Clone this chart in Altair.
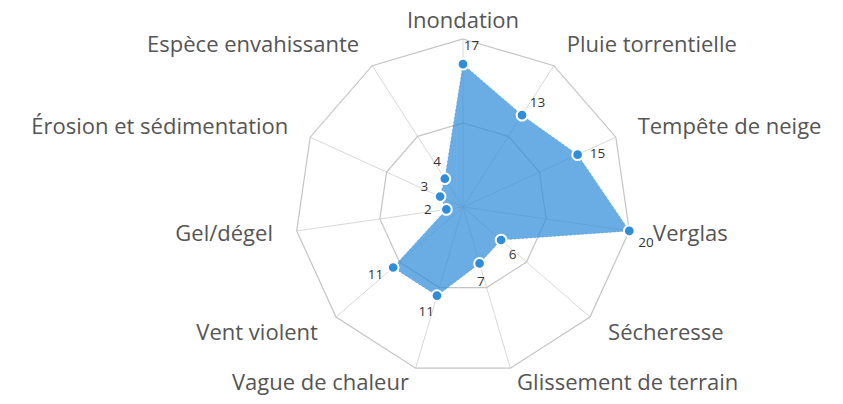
import altair as alt
import numpy as np
import pandas as pd

categories = ["Inondation", "Pluie torrentielle", "Tempête de neige", "Verglas",
              "Sécheresse", "Glissement de terrain", "Vague de chaleur", "Vent violent",
              "Gel/dégel", "Érosion et sédimentation", "Espèce envahissante"]
values = [17, 13, 15, 20, 6, 7, 11, 11, 2, 3, 4]
ring_levels = [10, 20]
max_value = 20

n = len(categories)
ang = np.arange(n) * 2 * np.pi / n

W, H = 827, 388
cx, cy = 455, 199
ppu = 168 / max_value
xdom = [-cx / ppu, (W - cx) / ppu]
ydom = [-(H - cy) / ppu, cy / ppu]

label_r = 192 / ppu
lab_font = 22
val_off = 2.2
val_shift = np.deg2rad(3)

v = np.array(values, dtype=float)
pts = pd.DataFrame({
    "cat": categories,
    "value": values,
    "i": np.arange(n),
    "x": v * np.sin(ang),
    "y": v * np.cos(ang),
    "lx": (v + val_off) * np.sin(ang + val_shift),
    "ly": (v + val_off) * np.cos(ang + val_shift),
})

rings = pd.DataFrame([
    {"level": lv, "i": i, "x": lv * np.sin(a), "y": lv * np.cos(a)}
    for lv in ring_levels for i, a in enumerate(ang)
])

spokes = pd.DataFrame({
    "x": 0.0, "y": 0.0,
    "x2": max_value * np.sin(ang), "y2": max_value * np.cos(ang),
})

s = np.sin(ang)
side = np.where(s > 0.1, "left", np.where(s < -0.1, "right", "center"))
half = lab_font * 0.58
lab_y = np.clip(label_r * np.cos(ang), -(H - cy - half) / ppu, (cy - half) / ppu)
labs = pd.DataFrame({
    "cat": categories,
    "x": label_r * np.sin(ang),
    "y": lab_y,
    "side": side,
})

xs = alt.Scale(domain=xdom, nice=False, zero=False)
ys = alt.Scale(domain=ydom, nice=False, zero=False)

def X(f="x"):
    return alt.X(f"{f}:Q", scale=xs, axis=None)

def Y(f="y"):
    return alt.Y(f"{f}:Q", scale=ys, axis=None)

spoke_layer = alt.Chart(spokes).mark_rule(color="#d8d8d8", strokeWidth=1).encode(
    x=X(), y=Y(), x2="x2:Q", y2="y2:Q")

ring_layer = alt.Chart(rings).mark_line(
    interpolate="linear-closed", color="#c4c4c4", strokeWidth=1.2).encode(
    x=X(), y=Y(), detail="level:N", order="i:Q")

area_layer = alt.Chart(pts).mark_line(
    interpolate="linear-closed", fill="#2f8dd9", fillOpacity=0.72,
    stroke="#2f8dd9", strokeOpacity=0.5, strokeWidth=1, strokeDash=[2, 2]).encode(
    x=X(), y=Y(), order="i:Q")

point_layer = alt.Chart(pts).mark_point(
    filled=True, fill="#2f8dd9", stroke="white", strokeWidth=2, size=115, opacity=1).encode(
    x=X(), y=Y())

val_layer = alt.Chart(pts).mark_text(
    font="Open Sans", fontSize=13.5, color="#333333", align="center", baseline="middle").encode(
    x=X("lx"), y=Y("ly"), text="value:Q")

cat_layers = []
for al in ["left", "right", "center"]:
    cat_layers.append(
        alt.Chart(labs).transform_filter(alt.datum.side == al).mark_text(
            font="Open Sans", fontSize=lab_font, color="#555555", align=al, baseline="middle").encode(
            x=X(), y=Y(), text="cat:N"))

chart = alt.layer(spoke_layer, ring_layer, area_layer, point_layer, val_layer, *cat_layers).properties(
    width=W, height=H, autosize=alt.AutoSizeParams(type="none"), padding=0
).configure_view(stroke=None)

chart.save("out.html", embed_options={"renderer": "svg", "actions": False})
